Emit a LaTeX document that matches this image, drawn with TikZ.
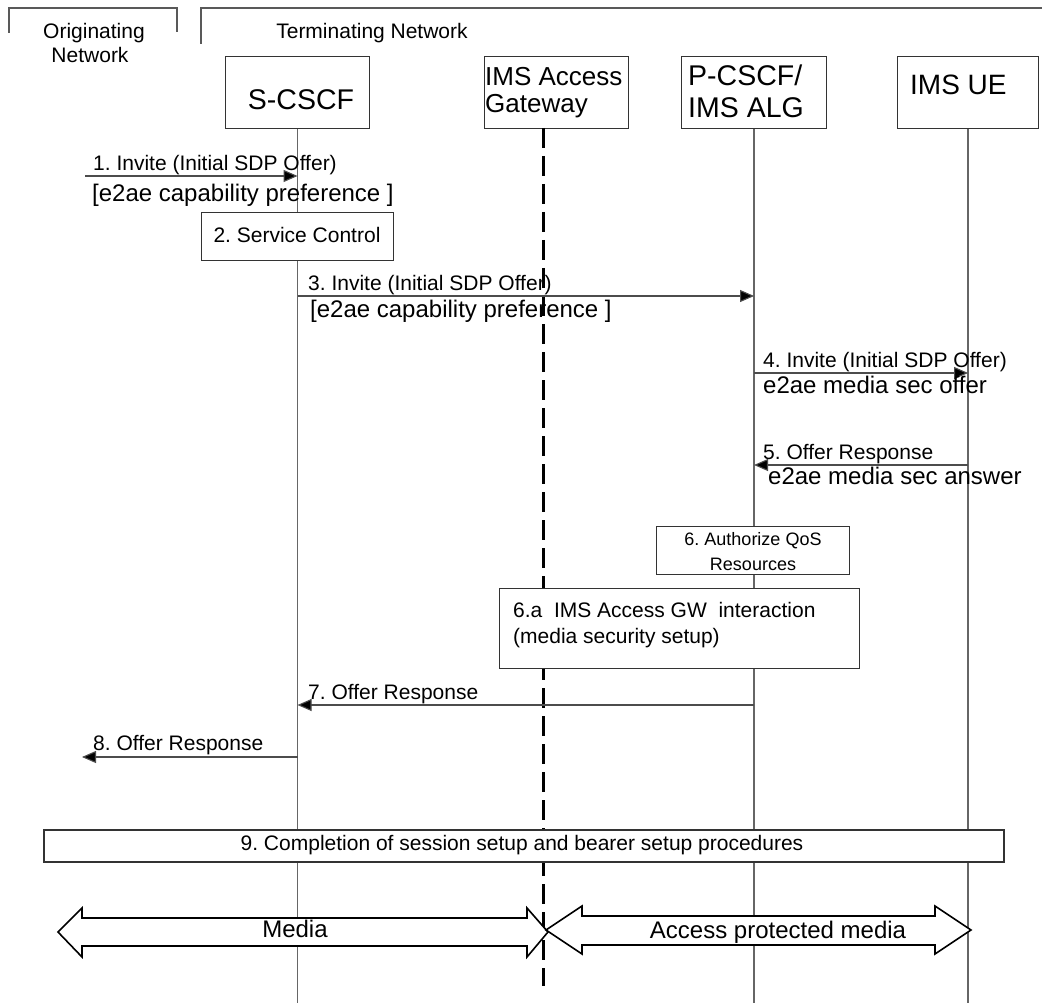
\documentclass[tikz,border=0pt]{standalone}
\usepackage{fontspec}
\setmainfont{Liberation Sans}
\usetikzlibrary{arrows.meta}
\frenchspacing
\begin{document}
\begin{tikzpicture}[x=1pt,y=-1pt,
  fs/.style={font=\fontsize{#1}{#1}\selectfont},
  entity/.style={draw=black!80, line width=1.1pt, fill=white, inner sep=0pt, anchor=north west},
  actbox/.style={draw=black!80, line width=1.1pt, fill=white, inner sep=0pt, anchor=north west},
  life/.style={draw=black!60, line width=1.2pt},
  gwlife/.style={draw=black, line width=3pt, dash pattern=on 20pt off 8pt},
  frame/.style={draw=black!65, line width=1.2pt},
  msg/.style={draw=black!70, line width=1.1pt, -{Triangle[length=14pt,width=12pt,fill=black]}},
  txt/.style={inner sep=0pt, anchor=base},
  ltxt/.style={inner sep=0pt, anchor=base west},
  bigarrow/.style={draw=black, line width=1.6pt, fill=white, line join=miter}
]
\useasboundingbox (0,0) rectangle (1042,1003);

% network frames
\draw[frame] (9,33) -- (9,8) -- (177,8) -- (177,32);
\draw[frame] (201,44) -- (201,8) -- (1042,8);
\node[txt, fs=21] (orig1) at (94,39) {Originating};
\node[txt, fs=21] (orig2) at (90,63) {Network};
\node[txt, fs=21] (term) at (372,39) {Terminating Network};

% entities
\node[entity, minimum width=144pt, minimum height=72pt] (scscf) at (225,56) {};
\node[entity, minimum width=144pt, minimum height=72pt] (gw) at (484,56) {};
\node[entity, minimum width=145pt, minimum height=72pt] (pcscf) at (681,56) {};
\node[entity, minimum width=141pt, minimum height=72pt] (ue) at (897,56) {};

\node[txt, fs=28.5] (scscft) at (301,110) {S-CSCF};
\node[ltxt, fs=26] (gwt1) at (485,86) {IMS Access};
\node[ltxt, fs=26] (gwt2) at (485,113) {Gateway};
\node[ltxt, fs=28.5] (pct1) at (688,86) {P-CSCF/};
\node[ltxt, fs=28.5] (pct2) at (688,118) {IMS ALG};
\node[ltxt, fs=28] (uet) at (910,95) {IMS UE};

% lifelines
\coordinate (gwtop) at (543,128);
\coordinate (gwbot) at (543,986);
\coordinate (origin) at (85,176);
\coordinate (origout) at (82,757);
\draw[life] (scscf.south) -- (scscf.south |- 0,1003);
\draw[life] (pcscf.south) -- (pcscf.south |- 0,1003);
\draw[life] (ue.south) -- (ue.south |- 0,1003);
\draw[gwlife] (gwtop) -- (gwbot);

% 1. Invite
\draw[msg] (origin) -- (scscf.south |- 0,176);
\node[ltxt, fs=21] (m1) at (93,171) {1. Invite (Initial SDP Offer)};
\node[ltxt, fs=24] (n1) at (92,202) {[e2ae capability preference ]};

% 2. Service control
\node[actbox, minimum width=192pt, minimum height=48pt] (svc) at (201,212) {};
\node[txt, fs=21] (svct) at (297,243) {2. Service Control};

% 3. Invite
\draw[msg] (scscf.south |- 0,296) -- (pcscf.south |- 0,296);
\node[ltxt, fs=21] (m3) at (308,290.5) {3. Invite (Initial SDP Offer)};
\node[ltxt, fs=24] (n3) at (310,317) {[e2ae capability preference ]};

% 4. Invite
\draw[msg] (pcscf.south |- 0,373) -- (ue.south |- 0,373);
\node[ltxt, fs=21] (m4) at (763,367.5) {4. Invite (Initial SDP Offer)};
\node[ltxt, fs=24] (n4) at (763,393) {e2ae media sec offer};

% 5. Offer response
\draw[msg] (ue.south |- 0,465) -- (pcscf.south |- 0,465);
\node[ltxt, fs=21] (m5) at (763,459.5) {5. Offer Response};
\node[ltxt, fs=24] (n5) at (768,484) {e2ae media sec answer};

% 6. Authorize QoS resources
\node[actbox, minimum width=193pt, minimum height=48pt] (qos) at (656,526) {};
\node[txt, fs=18] (qost1) at (753,545) {6. Authorize QoS};
\node[txt, fs=18] (qost2) at (753,570) {Resources};

% 6.a Access gateway interaction
\node[actbox, minimum width=360pt, minimum height=80pt] (gwi) at (499,588) {};
\node[ltxt, fs=21] (gwit1) at (513,617) {6.a\ \ IMS Access GW\ \ interaction};
\node[ltxt, fs=21] (gwit2) at (513,643) {(media security setup)};

% 7. / 8. Offer response
\draw[msg] (pcscf.south |- 0,705) -- (scscf.south |- 0,705);
\node[ltxt, fs=21] (m7) at (308,699.5) {7. Offer Response};
\draw[msg] (scscf.south |- 0,757) -- (origout);
\node[ltxt, fs=21] (m8) at (93,750.5) {8. Offer Response};

% 9. Completion
\node[actbox, line width=1.8pt, minimum width=960pt, minimum height=32pt] (done) at (43,829) {};
\node[txt, fs=21] (donet) at (522,850.5) {9. Completion of session setup and bearer setup procedures};

% media flows
\draw[bigarrow] (58,932) -- (82,908) -- (82,918) -- (527,918) -- (527,908) -- (548,932)
  -- (527,957) -- (527,946) -- (82,946) -- (82,957) -- cycle;
\draw[bigarrow] (546,930) -- (582,906) -- (582,916) -- (935,916) -- (935,906) -- (971,930)
  -- (935,954) -- (935,945) -- (582,945) -- (582,954) -- cycle;
\node[txt, fs=24] (media) at (295,937) {Media};
\node[txt, fs=24] (pmedia) at (778,938) {Access protected media};
\end{tikzpicture}
\end{document}
